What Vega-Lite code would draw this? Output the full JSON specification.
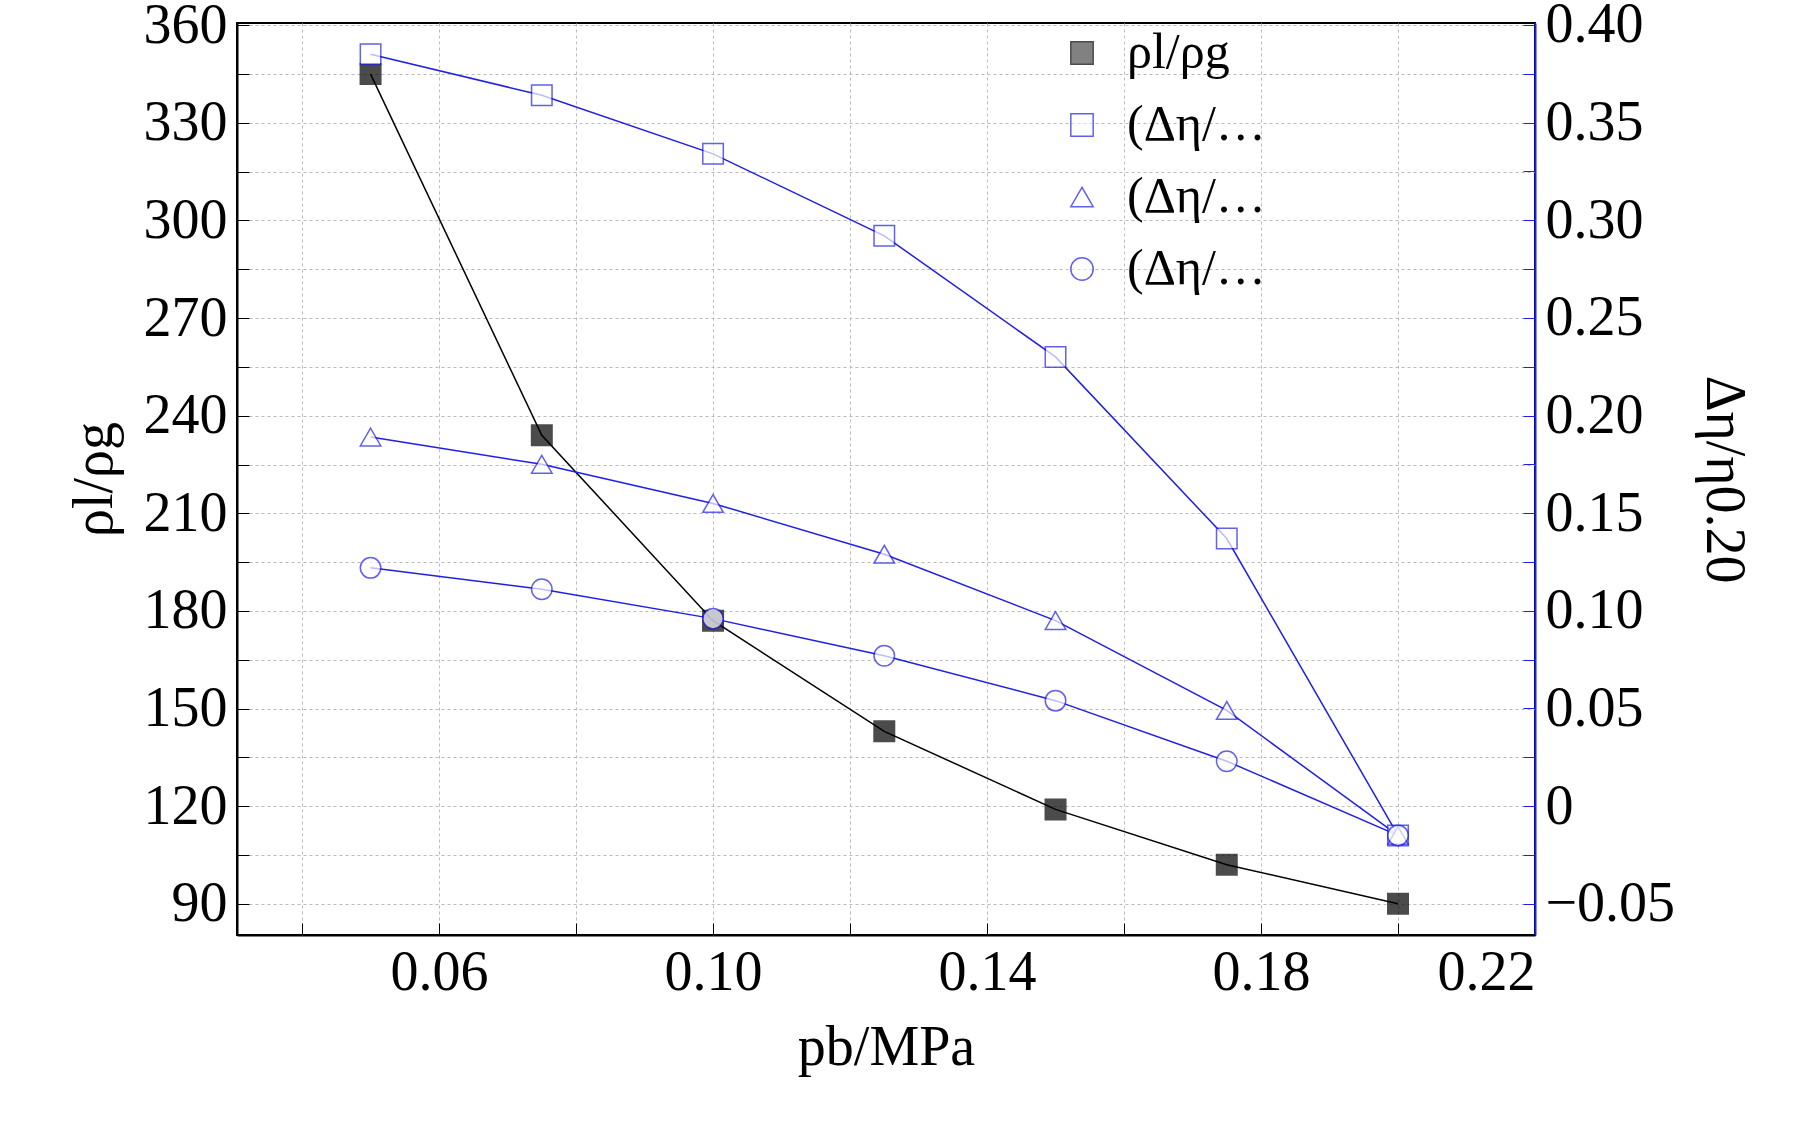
{
"$schema":"https://vega.github.io/schema/vega-lite/v6.json",
"width":1298,"height":912,"autosize":"none",
"padding":{"left":237,"top":23,"right":279,"bottom":187},
"background":"white",
"config":{"font":"Liberation Serif","view":{"stroke":"black","strokeWidth":2},
 "axis":{"labelFont":"Liberation Serif","titleFont":"Liberation Serif","labelFontSize":56,"titleFontSize":56,"titleFontWeight":"normal","domainColor":"black","tickColor":"black","labelColor":"black","titleColor":"black","gridColor":"#bbbbbb","gridDash":[3,3]}},
"data":{"values":[
{"x":0.05,"s":"rho","v":345},{"x":0.075,"s":"rho","v":234},{"x":0.10,"s":"rho","v":177},{"x":0.125,"s":"rho","v":143},{"x":0.15,"s":"rho","v":119},{"x":0.175,"s":"rho","v":102},{"x":0.20,"s":"rho","v":90},
{"x":0.05,"s":"e25","v":0.385},{"x":0.075,"s":"e25","v":0.364},{"x":0.10,"s":"e25","v":0.334},{"x":0.125,"s":"e25","v":0.292},{"x":0.15,"s":"e25","v":0.230},{"x":0.175,"s":"e25","v":0.137},{"x":0.20,"s":"e25","v":-0.015},
{"x":0.05,"s":"e30","v":0.189},{"x":0.075,"s":"e30","v":0.175},{"x":0.10,"s":"e30","v":0.155},{"x":0.125,"s":"e30","v":0.129},{"x":0.15,"s":"e30","v":0.095},{"x":0.175,"s":"e30","v":0.049},{"x":0.20,"s":"e30","v":-0.015},
{"x":0.05,"s":"e35","v":0.122},{"x":0.075,"s":"e35","v":0.111},{"x":0.10,"s":"e35","v":0.096},{"x":0.125,"s":"e35","v":0.077},{"x":0.15,"s":"e35","v":0.054},{"x":0.175,"s":"e35","v":0.023},{"x":0.20,"s":"e35","v":-0.015}
]},
"encoding":{
 "x":{"field":"x","type":"quantitative","scale":{"domain":[0.0305,0.22],"nice":false,"zero":false},
  "axis":{"title":"pb/MPa","values":[0.04,0.06,0.08,0.10,0.12,0.14,0.16,0.18,0.20,0.22],"labelExpr":"(round(datum.value*100)%4==2) ? format(datum.value,'.2f') : ''","tickSize":-12,"labelPadding":22,"grid":true,"titlePadding":20,"domainWidth":2}},
 "stroke":{"field":"s","type":"nominal","scale":{"domain":["rho","e25","e30","e35"],"range":["black","#1f1fe6","#1f1fe6","#1f1fe6"]},
  "legend":{"title":null,"orient":"none","legendX":820,"legendY":5,"labelFontSize":50,"labelFont":"Liberation Serif","symbolSize":500,"symbolStrokeWidth":1.5,"rowPadding":22,"labelOffset":20,
   "labelExpr":"datum.value=='rho' ? 'ρl/ρg' : datum.value=='e25' ? '(Δη/η0.20)0.25' : datum.value=='e30' ? '(Δη/η0.20)0.30' : '(Δη/η0.20)0.35'"}}
},
"layer":[
 {"transform":[{"filter":"datum.s=='rho'"}],
  "encoding":{"y":{"field":"v","type":"quantitative","scale":{"domain":[80.4,360.7],"nice":false,"zero":false},
   "axis":{"title":"ρl/ρg","values":[90,105,120,135,150,165,180,195,210,225,240,255,270,285,300,315,330,345,360],"labelExpr":"datum.value%30==0 ? datum.label : ''","tickSize":-12,"labelPadding":22,"grid":true,"titlePadding":20,"domainWidth":2}}},
  "layer":[
   {"mark":{"type":"line","strokeWidth":1.5},"encoding":{}},
   {"mark":{"type":"point","size":420,"strokeWidth":1.5},"encoding":{
     "shape":{"field":"s","type":"nominal","scale":{"domain":["rho","e25","e30","e35"],"range":["square","square","triangle-up","circle"]},"legend":null},
     "fill":{"field":"s","type":"nominal","scale":{"domain":["rho","e25","e30","e35"],"range":["black","white","white","white"]},"legend":null},"fillOpacity":{"value":1}}}
  ]},
 {"transform":[{"filter":"datum.s!='rho'"}],
  "encoding":{"y":{"field":"v","type":"quantitative","scale":{"domain":[-0.066,0.401],"nice":false,"zero":false},
   "axis":{"orient":"right","title":"Δη/η0.20","values":[-0.05,-0.025,0,0.025,0.05,0.075,0.1,0.125,0.15,0.175,0.2,0.225,0.25,0.275,0.3,0.325,0.35,0.375,0.4],
    "labelExpr":"abs(round(datum.value*1000)%50)!=0 ? '' : (abs(datum.value)<0.001 ? '0' : replace(format(datum.value,'.2f'),'-','−'))","tickSize":-12,"labelPadding":22,"grid":false,"domainColor":"#1f1fe6","tickColor":"#1f1fe6","domainWidth":2,"titlePadding":20}}},
  "layer":[
   {"mark":{"type":"line","strokeWidth":1.5},"encoding":{}},
   {"mark":{"type":"point","size":420,"strokeWidth":1.5},"encoding":{
     "shape":{"field":"s","type":"nominal","legend":null},
     "fill":{"field":"s","type":"nominal","legend":null},"fillOpacity":{"value":1}}}
  ]}
],
"resolve":{"scale":{"y":"independent"}}
}
